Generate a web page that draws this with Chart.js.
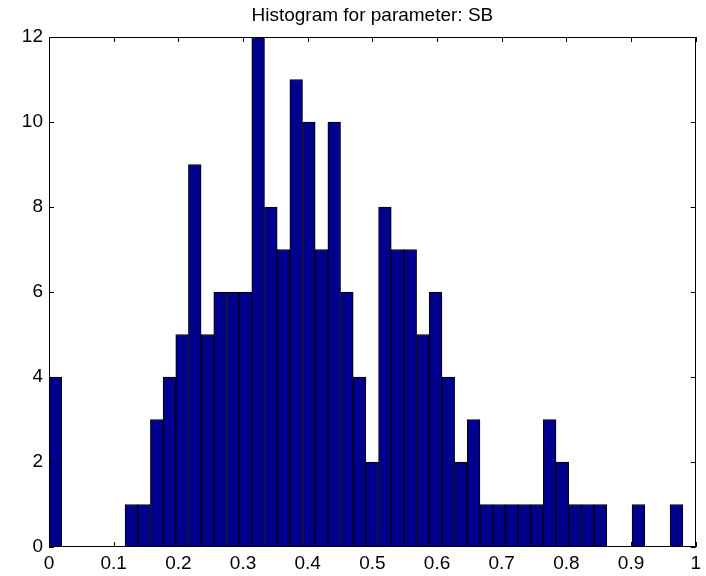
<!DOCTYPE html>
<html>
<head>
<meta charset="utf-8">
<script src="https://cdn.jsdelivr.net/npm/chart.js@4.4.1/dist/chart.umd.min.js"></script>
<style>
  html, body { margin: 0; padding: 0; background: #fff; }
</style>
</head>
<body>
<canvas id="histChart" width="706" height="576"></canvas>
<script>
// --- Histogram data: 50 equal bins ---
const binStart = 0;
const binWidth = 0.0196;
const binCounts = [
    4, 0, 0, 0, 0, 0, 1, 1, 3, 4,
    5, 9, 5, 6, 6, 6, 12, 8, 7, 11,
    10, 7, 10, 6, 4, 2, 8, 7, 7, 5,
    6, 4, 2, 3, 1, 1, 1, 1, 1, 3,
    2, 1, 1, 1, 0, 0, 1, 0, 0, 1
];

// --- Tick values / labels ---
const xTickValues = [0, 0.1, 0.2, 0.3, 0.4, 0.5, 0.6, 0.7, 0.8, 0.9, 1];
const xTickLabels = ['0', '0.1', '0.2', '0.3', '0.4', '0.5', '0.6', '0.7', '0.8', '0.9', '1'];
const yTickValues = [0, 2, 4, 6, 8, 10, 12];
const yTickLabels = ['0', '2', '4', '6', '8', '10', '12'];

const titleText = 'Histogram for parameter: SB';

const binCenters = binCounts.map((c, i) => binStart + (i + 0.5) * binWidth);

const FONT = "'Liberation Sans', Arial, sans-serif";
const TICK_LEN = 5;

// --- MATLAB-style box with inward ticks on all four sides ---
const matlabAxesPlugin = {
    id: 'matlabAxes',
    afterDatasetsDraw(chart) {
        const { ctx, chartArea: a } = chart;
        const xScale = chart.scales.x;
        const yScale = chart.scales.y;

        ctx.save();
        ctx.strokeStyle = '#000';
        ctx.lineWidth = 1;
        ctx.beginPath();
        xTickValues.forEach(v => {
            const px = Math.round(xScale.getPixelForValue(v)) + 0.5;
            ctx.moveTo(px, a.bottom);
            ctx.lineTo(px, a.bottom - TICK_LEN);
            ctx.moveTo(px, a.top);
            ctx.lineTo(px, a.top + TICK_LEN);
        });
        yTickValues.forEach(v => {
            const py = Math.round(yScale.getPixelForValue(v)) + 0.5;
            ctx.moveTo(a.left, py);
            ctx.lineTo(a.left + TICK_LEN, py);
            ctx.moveTo(a.right, py);
            ctx.lineTo(a.right - TICK_LEN, py);
        });
        ctx.stroke();

        const l = Math.round(a.left) + 0.5;
        const t = Math.round(a.top) + 0.5;
        const r = Math.round(a.right) - 0.5;
        const b = Math.round(a.bottom) - 0.5;
        ctx.strokeRect(l, t, r - l, b - t);
        ctx.restore();
    }
};

const ctx = document.getElementById('histChart').getContext('2d');

new Chart(ctx, {
    type: 'bar',
    data: {
        datasets: [{
            label: 'SB',
            data: binCenters.map((c, i) => ({ x: c, y: binCounts[i] })),
            backgroundColor: 'rgb(0, 0, 140)',
            borderColor: '#000',
            borderWidth: 1,
            borderSkipped: false,
            barPercentage: 1,
            categoryPercentage: 1
        }]
    },
    options: {
        responsive: false,
        animation: false,
        devicePixelRatio: 1,
        layout: {
            padding: { left: 0, right: 8, top: 0, bottom: 0 }
        },
        plugins: {
            legend: { display: false },
            tooltip: { enabled: false },
            title: {
                display: true,
                fullSize: false,   // centre over the axes, like MATLAB
                text: titleText,
                color: '#000',
                font: { family: FONT, size: 19, weight: 'normal', lineHeight: 1 },
                padding: { top: 6, bottom: 12 }
            }
        },
        scales: {
            x: {
                type: 'linear',
                min: 0,
                max: 1,
                offset: false,
                grid: { display: false, drawTicks: false },
                border: { display: false },
                afterBuildTicks: (scale) => {
                    scale.ticks = xTickValues.map(v => ({ value: v }));
                },
                afterFit: (scale) => { scale.height = 29; },
                ticks: {
                    autoSkip: false,
                    maxRotation: 0,
                    padding: 5,
                    color: '#000',
                    font: { family: FONT, size: 19 },
                    callback: (value, index) => xTickLabels[index]
                }
            },
            y: {
                min: 0,
                max: 12,
                grid: { display: false, drawTicks: false },
                border: { display: false },
                afterBuildTicks: (scale) => {
                    scale.ticks = yTickValues.map(v => ({ value: v }));
                },
                afterFit: (scale) => { scale.width = 49; },
                ticks: {
                    padding: 6,
                    color: '#000',
                    font: { family: FONT, size: 19 },
                    callback: (value, index) => yTickLabels[index]
                }
            }
        }
    },
    plugins: [matlabAxesPlugin]
});
</script>
</body>
</html>
